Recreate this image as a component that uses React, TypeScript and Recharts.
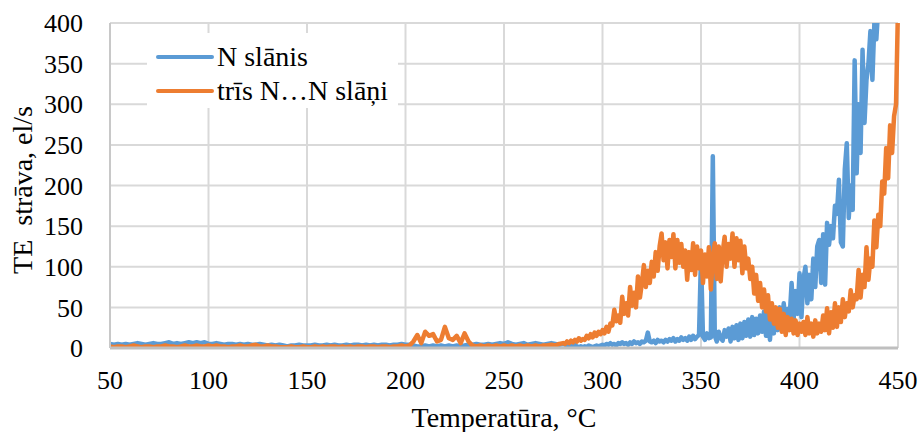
import React from "react";
import {
  LineChart, Line, XAxis, YAxis, CartesianGrid, Legend,
} from "recharts";

// sampling grid: every 2 °C up to 280, then every 1 °C where the signal is busy
const TEMPS: number[] = [
  ...Array.from({ length: 116 }, (_, i) => 50 + i * 2),
  ...Array.from({ length: 170 }, (_, i) => 281 + i),
];

const X_TICKS = [50, 100, 150, 200, 250, 300, 350, 400, 450];
const Y_TICKS = [0, 50, 100, 150, 200, 250, 300, 350, 400];

const N_LAYER = [
  5,
  4, 5, 4, 5, 4, 5, 6, 5, 4, 5, 6, 5, 5, 6, 7, 5, 6, 5, 6, 7, 6, 7, 6, 7, 5,
  5, 6, 5, 4, 5, 5, 4, 5, 4, 5, 4, 4, 5, 4, 3, 4, 3, 4, 3, 2, 3, 3, 4, 3, 3,
  3, 4, 3, 3, 4, 3, 4, 3, 3, 4, 3, 4, 4, 3, 4, 3, 4, 3, 4, 4, 3, 4, 4, 5, 4,
  4, 3, 2, 2, 3, 2, 3, 2, 3, 2, 3, 2, 3, 2, 3, 4, 4, 5, 4, 4, 5, 4, 5, 6, 5,
  7, 5, 4, 5, 6, 4, 5, 6, 5, 4, 5, 6, 5, 4, 5,
  // 281..450, step 1
  4, 3, 5, 3, 2, 4, 2, 1, 2, 1,
  2, 1, 3, 2, 1, 2, 3, 2, 3, 4,
  3, 5, 4, 6, 4, 5, 3, 6, 5, 7,
  5, 6, 4, 7, 5, 8, 6, 7, 5, 8,
  7, 9, 19, 8, 7, 9, 6, 10, 8, 9,
  7, 10, 8, 11, 9, 12, 8, 11, 9, 13,
  10, 12, 9, 14, 10, 15, 11, 14, 16, 112,
  14, 10, 18, 12, 13, 236, 15, 8, 20, 12,
  9, 22, 14, 24, 8, 26, 12, 28, 10, 30,
  12, 32, 15, 35, 14, 38, 16, 36, 18, 40,
  20, 45, 15, 48, 10, 42, 18, 45, 22, 50,
  25, 55, 30, 48, 38, 80, 35, 70, 42, 92,
  38, 85, 100, 55, 90, 60, 110, 75, 125, 133,
  80, 140, 78, 154, 127, 150, 135, 175, 165, 207,
  130, 125, 220, 252, 160, 200, 170, 354, 215, 300,
  240, 367, 277, 330, 350, 390, 330, 400, 380, 420,
  430, 470, 480, 500, 510, 520, 530, 540, 550, 560,
];

const THREE_LAYERS = [
  2,
  1, 2, 2, 1, 2, 3, 2, 1, 2, 2, 1, 2, 2, 3, 2, 2, 1, 2, 3, 2, 2, 3, 2, 2, 3,
  2, 3, 2, 2, 1, 2, 2, 3, 2, 2, 3, 4, 2, 2, 3, 2, 2, 1, 1, 1, 2, 1, 1, 2, 1,
  1, 2, 1, 2, 1, 2, 2, 1, 2, 1, 2, 1, 2, 2, 1, 2, 2, 1, 2, 2, 1, 2, 2, 3, 2,
  3, 8, 16, 6, 20, 15, 17, 8, 10, 26, 12, 10, 15, 6, 18, 8, 3, 2, 3, 2, 3, 2, 3, 2, 3,
  2, 3, 2, 3, 2, 3, 2, 3, 2, 3, 3, 4, 3, 5, 6,
  // 281..450, step 1
  5, 8, 6, 9, 7, 10, 8, 12, 9, 11,
  10, 15, 12, 17, 13, 19, 15, 20, 17, 22,
  18, 26, 20, 30, 28, 47, 33, 40, 31, 63,
  42, 55, 40, 75, 52, 68, 50, 88, 62, 80,
  102, 75, 95, 80, 106, 88, 118, 95, 125, 141,
  108, 130, 98, 133, 112, 140, 98, 133, 105, 128,
  100, 120, 84, 118, 96, 129, 90, 125, 98, 120,
  80, 115, 88, 124, 72, 110, 129, 85, 125, 82,
  118, 137, 100, 128, 110, 141, 100, 135, 108, 132,
  92, 125, 98, 110, 85, 100, 67, 90, 58, 80,
  50, 72, 45, 65, 35, 55, 30, 50, 25, 48,
  20, 42, 16, 38, 22, 36, 18, 34, 16, 30,
  20, 32, 16, 38, 18, 30, 14, 34, 18, 30,
  20, 40, 22, 49, 18, 44, 25, 55, 26, 50,
  32, 60, 38, 55, 45, 71, 50, 65, 60, 96,
  62, 90, 75, 124, 84, 110, 100, 157, 124, 164,
  150, 205, 190, 246, 209, 274, 240, 285, 300, 420,
];

const SERIES = [
  { key: "n", name: "N slānis", color: "#5B9BD5" },
  { key: "n3", name: "trīs N…N slāņi", color: "#ED7D31" },
];

const data = TEMPS.map((t, i) => ({ t, n: N_LAYER[i], n3: THREE_LAYERS[i] }));

const FONT = '"Liberation Serif", "Times New Roman", serif';
const TICK_STYLE = { fontFamily: FONT, fontSize: 26, fill: "#000" };

function XTick({ x, y, payload }: any) {
  return (
    <text x={x} y={y} dy="0.71em" textAnchor="middle" style={TICK_STYLE}>
      {payload.value}
    </text>
  );
}

function YTick({ x, y, payload }: any) {
  return (
    <text x={x} y={y} dy="0.355em" textAnchor="end" style={TICK_STYLE}>
      {payload.value}
    </text>
  );
}

function LegendBox() {
  return (
    <div style={{ background: "#fff", width: 251, height: 75, paddingTop: 7, boxSizing: "border-box" }}>
      {SERIES.map((s) => (
        <div key={s.key} style={{ display: "flex", alignItems: "center", height: 34 }}>
          <svg width={70} height={10} style={{ flex: "none" }}>
            <line x1={11} y1={5} x2={65} y2={5} stroke={s.color} strokeWidth={4} strokeLinecap="round" />
          </svg>
          <span style={{ fontFamily: FONT, fontSize: 28, color: "#000", lineHeight: "34px" }}>{s.name}</span>
        </div>
      ))}
    </div>
  );
}

function YTitle() {
  return (
    <text transform="translate(32,190) rotate(-90)" textAnchor="middle"
      style={{ fontFamily: FONT, fontSize: 28, fill: "#000", whiteSpace: "pre" }}>
      {"TE  strāva, el/s"}
    </text>
  );
}

export default function App() {
  return (
    <div style={{ position: "absolute", left: 0, top: 0, background: "#fff", fontFamily: FONT }}>
      <LineChart width={921} height={432} data={data}
        margin={{ top: 23, right: 23, bottom: 0, left: 0 }}>
        <CartesianGrid stroke="#D9D9D9" strokeWidth={2} />
        <XAxis
          dataKey="t" type="number" domain={[50, 450]} ticks={X_TICKS}
          height={84} tickSize={0} tickMargin={23}
          tick={<XTick />}
          axisLine={{ stroke: "#BFBFBF", strokeWidth: 3 }} tickLine={false}
          label={{ value: "Temperatūra, °C", position: "insideBottom", offset: 5, fontSize: 28, fill: "#000", fontFamily: FONT }}
        />
        <YAxis
          type="number" domain={[0, 400]} ticks={Y_TICKS} allowDataOverflow
          width={110} tickSize={0} tickMargin={27}
          tick={<YTick />}
          axisLine={{ stroke: "#C8C8C8", strokeWidth: 2 }} tickLine={false}
          label={<YTitle />}
        />
        <Legend
          layout="vertical" align="center" verticalAlign="middle"
          content={<LegendBox />}
          wrapperStyle={{ left: 147, top: 33, width: 251, height: 75 }}
        />
        {SERIES.map((s) => (
          <Line key={s.key} type="linear" dataKey={s.key} name={s.name}
            stroke={s.color} strokeWidth={4.5} strokeLinejoin="round"
            dot={false} isAnimationActive={false} />
        ))}
      </LineChart>
    </div>
  );
}
